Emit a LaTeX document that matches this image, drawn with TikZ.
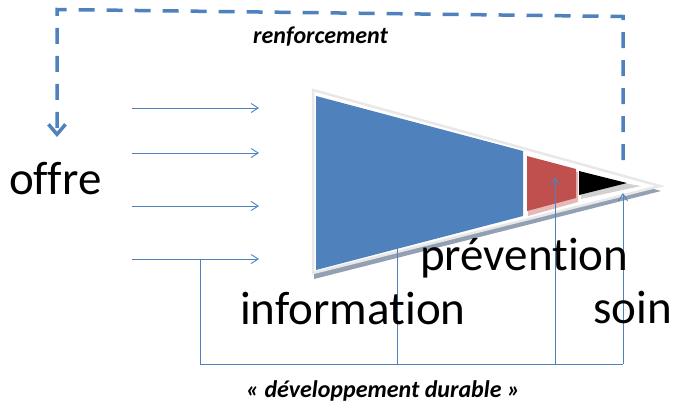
\documentclass[tikz,border=0pt]{standalone}
\usepackage{fontspec}
\setmainfont{Carlito}[Ligatures=NoCommon]
\usetikzlibrary{arrows.meta}
\definecolor{officeblue}{HTML}{4F81BD}
\definecolor{officered}{HTML}{C0504D}
\definecolor{linkblue}{HTML}{4F81BD}
\definecolor{rimgray}{HTML}{E8E8E8}
\definecolor{shadowgray}{HTML}{93A0B4}
\begin{document}
\begin{tikzpicture}[x=1pt,y=-1pt,
  feed/.style={draw=linkblue, line width=0.9pt, -{Straight Barb[length=7pt,width=9pt]}},
  link/.style={draw=linkblue, line width=0.9pt},
  loopline/.style={draw=officeblue, line width=3.5pt, dash pattern=on 16pt off 12pt},
  biglabel/.style={inner sep=0pt, anchor=base west, font=\fontsize{47}{54}\selectfont},
  note/.style={inner sep=0pt, anchor=base west, font=\fontsize{24}{28}\selectfont\bfseries\itshape}]
\useasboundingbox (0,0) rectangle (675,405);

% ---- funnel triangle: shadow, rim, segments ----
\fill[shadowgray] (314,95) -- (661,191) -- (314,279) -- cycle;
\filldraw[fill=white, draw=rimgray, line width=2.5pt, line join=miter]
  (313,90) -- (660,186) -- (313,273) -- cycle;
\fill[officeblue] (316,96) -- (523,151) -- (523,216) -- (316,270) -- cycle;
% faint shadows under the small segments
\fill[officered!40] (528,160) -- (578,172) -- (578,202) -- (528,216) -- cycle;
\fill[black!18] (581,176) -- (641,186) -- (581,199) -- cycle;
\fill[officered] (527,156) -- (576,169) -- (576,198) -- (527,211) -- cycle;
\fill[black] (579,171) -- (627,183) -- (579,195) -- cycle;

% ---- reinforcement loop (dashed) ----
\coordinate (loopstart) at (623,160);
\coordinate (loopright) at (623,16.5);
\coordinate (loopleft) at (57,9.5);
\coordinate (loopend) at (57,137);
\draw[loopline, -{Straight Barb[length=10pt,width=17pt]}]
  (loopstart) -- (loopright) -- (loopleft) -- (loopend);

% ---- supply arrows ----
\foreach \i/\y in {1/108, 2/153, 3/206, 4/259} {
  \coordinate (feed\i s) at (132,\y);
  \coordinate (feed\i e) at (259,\y);
  \draw[feed] (feed\i s) -- (feed\i e);
}

% ---- sustainable-development bracket ----
\coordinate (bracketTop) at (200,259);
\coordinate (bracketLeft) at (200,364);
\coordinate (bracketRight) at (623,364);
\coordinate (footInfo) at (397,364);
\coordinate (footPrev) at (555,364);
\coordinate (tipInfo) at (397,200);
\coordinate (tipPrev) at (555,177);
\coordinate (tipSoin) at (623,193);
\draw[link] (bracketTop) -- (bracketLeft) -- (bracketRight);
\draw[feed] (bracketRight) -- (tipSoin);
\draw[feed] (footInfo) -- (tipInfo);
\draw[feed] (footPrev) -- (tipPrev);

% ---- labels ----
\node[biglabel] (offre) at (9,194) {offre};
\node[biglabel] (information) at (240,324) {information};
\node[biglabel] (prevention) at (420,270) {prévention};
\node[biglabel] (soin) at (593,323) {soin};
\node[note] (renforcement) at (253,43) {renforcement};
\node[note] (durable) at (246,397) {« développement durable »};
\end{tikzpicture}
\end{document}
